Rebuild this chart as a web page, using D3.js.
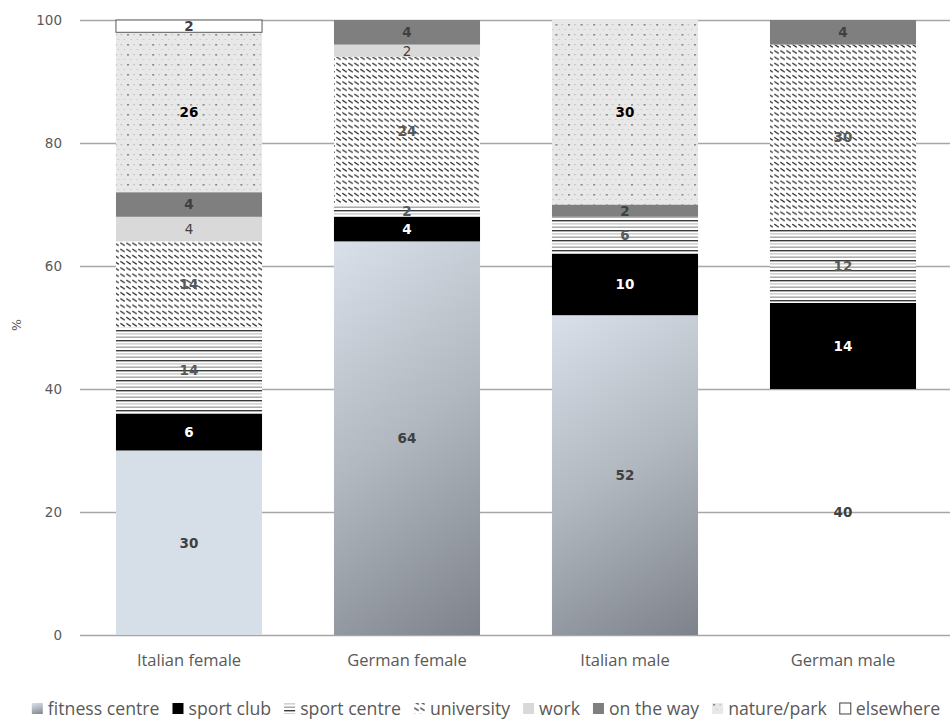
<!DOCTYPE html>
<html><head><meta charset="utf-8">
<script src="https://cdn.jsdelivr.net/npm/d3@7/dist/d3.min.js"></script>
<style>
html,body{margin:0;padding:0;background:#fff;}
svg{display:block;}
</style>
</head><body>
<svg id="chart" width="950" height="719"></svg>
<script>
// ---- data ----
const categories = ["Italian female", "German female", "Italian male", "German male"];
const seriesNames = ["fitness centre", "sport club", "sport centre", "university", "work", "on the way", "nature/park", "elsewhere"];
const fitnessCentre = [30, 64, 52, 40];
const sportClub     = [6, 4, 10, 14];
const sportCentre   = [14, 2, 6, 12];
const university    = [14, 24, 0, 30];
const work          = [4, 2, 0, 0];
const onTheWay      = [4, 4, 2, 4];
const naturePark    = [26, 0, 30, 0];
const elsewhere     = [2, 0, 0, 0];
const yTicks = [0, 20, 40, 60, 80, 100];
const yAxisTitle = "%";

const seriesValues = [fitnessCentre, sportClub, sportCentre, university, work, onTheWay, naturePark, elsewhere];
const rows = categories.map((c, i) => {
  const r = {category: c};
  seriesNames.forEach((s, j) => r[s] = seriesValues[j][i]);
  return r;
});

// ---- styles ----
const svg = d3.select("#chart");
const defs = svg.append("defs");

const grad = defs.append("linearGradient").attr("id", "gradFit")
  .attr("x1", "0").attr("y1", "0").attr("x2", "0.349").attr("y2", "1.274");
grad.append("stop").attr("offset", "0").attr("stop-color", "#d9e0e9");
grad.append("stop").attr("offset", "0.45").attr("stop-color", "#b2b8c0");
grad.append("stop").attr("offset", "1").attr("stop-color", "#767b83");

// horizontal lines (sport centre)
const pH = defs.append("pattern").attr("id", "patH").attr("patternUnits", "userSpaceOnUse")
  .attr("width", 10).attr("height", 10);
pH.append("rect").attr("width", 10).attr("height", 10).attr("fill", "#fff");
pH.append("rect").attr("x", 0).attr("y", 0).attr("width", 10).attr("height", 1.4).attr("fill", "#3a3a3a");
pH.append("rect").attr("x", 0).attr("y", 3.4).attr("width", 10).attr("height", 1).attr("fill", "#b5b5b5");
pH.append("rect").attr("x", 0).attr("y", 6.6).attr("width", 10).attr("height", 1.1).attr("fill", "#8a8a8a");

// dashed diagonal (university)
const pD = defs.append("pattern").attr("id", "patD").attr("patternUnits", "userSpaceOnUse")
  .attr("width", 6).attr("height", 6.2);
pD.append("rect").attr("width", 6).attr("height", 6.2).attr("fill", "#fff");
pD.append("line").attr("x1", 0.3).attr("y1", 1.0).attr("x2", 4.8).attr("y2", 3.8)
  .attr("stroke", "#333").attr("stroke-width", 1.25);

// dotted (nature/park)
const pN = defs.append("pattern").attr("id", "patN").attr("patternUnits", "userSpaceOnUse")
  .attr("width", 12.6).attr("height", 10);
pN.append("rect").attr("width", 12.6).attr("height", 10).attr("fill", "#e8e8e8");
pN.append("rect").attr("x", 1).attr("y", 4).attr("width", 2).attr("height", 1.6).attr("fill", "#878787");
pN.append("rect").attr("x", 7.3).attr("y", 4).attr("width", 1.5).attr("height", 1.2).attr("fill", "#bdbdbd");
pN.append("rect").attr("x", 4.2).attr("y", 9).attr("width", 1.5).attr("height", 1).attr("fill", "#c8c8c8");
pN.append("rect").attr("x", 10.4).attr("y", 9).attr("width", 1.5).attr("height", 1).attr("fill", "#c8c8c8");

const fitnessFillByBar = ["#d6dee8", "url(#gradFit)", "url(#gradFit)", "none"];
const seriesFill = {
  "fitness centre": "url(#gradFit)",
  "sport club": "#000000",
  "sport centre": "url(#patH)",
  "university": "url(#patD)",
  "work": "#d9d9d9",
  "on the way": "#7f7f7f",
  "nature/park": "url(#patN)",
  "elsewhere": "#ffffff"
};
const labelStyle = {
  "fitness centre": {c: "#404040", w: "bold"},
  "sport club": {c: "#ffffff", w: "bold"},
  "sport centre": {c: "#595959", w: "bold"},
  "university": {c: "#595959", w: "bold"},
  "work": {c: "#404040", w: "normal"},
  "on the way": {c: "#404040", w: "bold"},
  "nature/park": {c: "#000000", w: "bold"},
  "elsewhere": {c: "#404040", w: "bold"}
};

// ---- scales ----
const x = d3.scaleBand().domain(categories).range([80, 952]).paddingInner(0.33).paddingOuter(0.165);
const y = d3.scaleLinear().domain([0, 100]).range([635, 20]);

// gridlines
svg.append("g").selectAll("line").data(yTicks).join("line")
  .attr("x1", 80).attr("x2", 950)
  .attr("y1", d => Math.round(y(d)) + 0.5).attr("y2", d => Math.round(y(d)) + 0.5)
  .attr("stroke", "#a6a6a6").attr("stroke-width", 1.3);

// y tick labels
const yAxis = d3.axisLeft(y).tickValues(yTicks).tickSize(0).tickPadding(0);
const gy = svg.append("g").attr("transform", "translate(62,0)").call(yAxis);
gy.select(".domain").remove();
gy.attr("font-family", null).attr("font-size", null);
gy.selectAll("text").style("font-family", "DejaVu Sans, Verdana, sans-serif")
  .style("font-size", "13.5px").attr("fill", "#595959").attr("dy", "0.35em");

svg.append("text").attr("transform", "translate(21,325) rotate(-90)")
  .attr("text-anchor", "middle").style("font-family", "DejaVu Sans, sans-serif")
  .style("font-size", "12.5px").attr("fill", "#595959").text(yAxisTitle);

// x category labels
const xAxis = d3.axisBottom(x).tickSize(0).tickPadding(0);
const gx = svg.append("g").attr("transform", "translate(0,660)").call(xAxis);
gx.select(".domain").remove();
gx.attr("font-family", null).attr("font-size", null);
gx.selectAll("text").style("font-family", "'Open Sans', sans-serif")
  .style("font-size", "16.5px").attr("fill", "#595959").attr("dy", "0.35em");

// ---- bars ----
const stack = d3.stack().keys(seriesNames);
const stacked = stack(rows);

const layers = svg.append("g").selectAll("g").data(stacked).join("g");
layers.selectAll("rect").data(d => d.map((v, i) => ({key: d.key, v, i})).filter(e => e.v[1] - e.v[0] > 0))
  .join("rect")
  .attr("x", e => x(e.v.data.category))
  .attr("width", x.bandwidth())
  .attr("y", e => y(e.v[1]))
  .attr("height", e => y(e.v[0]) - y(e.v[1]))
  .attr("fill", e => e.key === "fitness centre" ? fitnessFillByBar[e.i] : seriesFill[e.key])
  .attr("stroke", e => e.key === "elsewhere" ? "#595959" : "none")
  .attr("stroke-width", 1);

// labels
layers.selectAll("text").data(d => d.map((v, i) => ({key: d.key, v, i})).filter(e => e.v[1] - e.v[0] > 0))
  .join("text")
  .attr("x", e => x(e.v.data.category) + x.bandwidth() / 2)
  .attr("y", e => y((e.v[0] + e.v[1]) / 2))
  .attr("dy", "0.36em")
  .attr("text-anchor", "middle")
  .style("font-family", "DejaVu Sans, Verdana, sans-serif")
  .style("font-size", "13.5px")
  .attr("font-weight", e => labelStyle[e.key].w)
  .attr("fill", e => labelStyle[e.key].c)
  .text(e => e.v[1] - e.v[0]);

// ---- legend ----
const legend = svg.append("g");
const items = legend.selectAll("g").data(seriesNames).join("g");
items.append("rect").attr("width", 11).attr("height", 11).attr("y", 703)
  .attr("fill", d => d === "fitness centre" ? "url(#gradFit)" : seriesFill[d])
  .attr("stroke", d => d === "elsewhere" ? "#404040" : "none");
items.append("text").attr("x", 16).attr("y", 715)
  .style("font-family", "'Open Sans', sans-serif").style("font-size", "17.7px").attr("fill", "#595959")
  .text(d => d);
let cx = 0;
const pos = [];
items.each(function(d) {
  pos.push(cx);
  const w = d3.select(this).select("text").node().getComputedTextLength();
  cx += 16 + w + 13;
});
const totalW = cx - 13;
const startX = 486 - totalW / 2;
items.attr("transform", (d, i) => `translate(${startX + pos[i]},0)`);
</script>
</body></html>
